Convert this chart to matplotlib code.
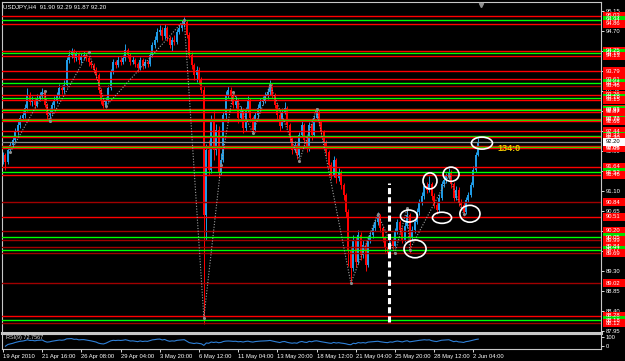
import numpy as np
import pandas as pd
import matplotlib
matplotlib.use("Agg")
import matplotlib.pyplot as plt
import matplotlib.transforms as mtransforms
from matplotlib.patches import Ellipse, Rectangle

plt.rcParams["font.family"] = ["Liberation Sans", "DejaVu Sans"]

# --- USDJPY H4 candles (19 Apr - 2 Jun 2010) ---
first_open = 91.78
closes = [
    91.90, 91.75, 92.02, 92.13, 92.24, 92.42, 92.58, 92.73, 92.80, 92.96,
    93.25, 93.10, 93.14, 93.03, 93.19, 93.23, 93.32, 93.03, 92.80, 92.87,
    93.03, 93.14, 93.25, 93.41, 93.37, 93.48, 94.04, 94.15, 94.22, 94.08,
    94.17, 94.04, 94.13, 94.15, 94.08, 93.99, 93.93, 93.82, 93.70, 93.37,
    93.14, 93.00, 93.14, 93.41, 93.77, 93.99, 93.93, 94.04, 93.99, 94.08,
    94.27, 94.15, 93.99, 94.04, 93.95, 93.86, 94.04, 93.91, 93.99, 93.95,
    94.15, 94.38, 94.49, 94.67, 94.72, 94.58, 94.76, 94.54, 94.38, 94.49,
    94.45, 94.67, 94.76, 94.83, 94.90, 94.60, 94.15, 93.93, 93.70, 93.82,
    93.59, 93.37, 90.55, 92.02, 91.57, 92.69, 92.02, 92.47, 91.52, 91.79,
    92.80, 93.25, 93.37, 93.25, 93.03, 93.14, 92.73, 92.91, 92.51, 92.91,
    93.14, 92.73, 92.47, 92.80, 92.96, 93.10, 93.14, 93.23, 93.32, 93.48,
    93.25, 93.03, 92.80, 92.55, 92.87, 92.96, 92.58, 92.28, 92.02, 92.13,
    91.90, 92.35, 92.58, 92.24, 92.06, 92.58, 92.35, 92.73, 92.87, 92.64,
    92.42, 92.19, 91.97, 91.68, 91.45, 91.79, 91.38, 91.52, 91.23, 91.00,
    90.62, 89.77, 89.36, 89.99, 89.50, 90.10, 89.65, 89.88, 89.43, 89.99,
    90.10, 90.26, 90.39, 90.53, 90.26, 90.04, 89.81, 89.70, 89.99, 89.86,
    90.17, 90.39, 90.22, 89.99, 90.31, 90.55, 90.04, 90.22, 90.39, 90.62,
    90.84, 90.98, 91.20, 91.12, 91.25, 90.98, 90.78, 90.67, 90.94, 91.25,
    91.34, 91.43, 91.52, 91.25, 90.94, 91.12, 90.84, 90.78, 90.62, 90.89,
    91.00, 91.23, 91.57, 91.90, 92.20]
highs = [
    91.98, 91.95, 92.08, 92.20, 92.31, 92.50, 92.66, 92.80, 92.90, 93.05,
    93.40, 93.32, 93.22, 93.20, 93.27, 93.33, 93.42, 93.36, 93.08, 92.95,
    93.10, 93.22, 93.33, 93.50, 93.48, 93.58, 94.10, 94.26, 94.30, 94.28,
    94.25, 94.21, 94.20, 94.24, 94.20, 94.12, 94.05, 93.98, 93.88, 93.75,
    93.42, 93.19, 93.21, 93.48, 93.84, 94.07, 94.05, 94.12, 94.10, 94.16,
    94.40, 94.32, 94.19, 94.12, 94.09, 94.00, 94.11, 94.08, 94.06, 94.04,
    94.22, 94.45, 94.58, 94.77, 94.82, 94.78, 94.86, 94.80, 94.58, 94.56,
    94.60, 94.74, 94.85, 94.93, 95.01, 94.95, 94.66, 94.22, 93.98, 93.90,
    93.88, 93.65, 93.45, 92.15, 92.24, 92.80, 92.90, 92.60, 92.55, 91.95,
    92.88, 93.35, 93.45, 93.44, 93.30, 93.24, 93.18, 93.00, 92.96, 92.98,
    93.23, 93.18, 92.78, 92.88, 93.04, 93.18, 93.22, 93.31, 93.40, 93.60,
    93.53, 93.30, 93.08, 92.85, 92.95, 93.10, 93.00, 92.62, 92.32, 92.22,
    92.18, 92.42, 92.66, 92.62, 92.30, 92.65, 92.62, 92.80, 92.96, 92.92,
    92.70, 92.47, 92.24, 92.02, 91.74, 91.88, 91.84, 91.62, 91.56, 91.28,
    91.05, 90.68, 89.85, 90.10, 90.06, 90.22, 90.18, 89.98, 89.94, 90.08,
    90.20, 90.34, 90.47, 90.61, 90.58, 90.30, 90.08, 89.86, 90.07, 90.04,
    90.25, 90.47, 90.45, 90.28, 90.40, 90.71, 90.60, 90.30, 90.46, 90.70,
    90.92, 91.06, 91.28, 91.30, 91.43, 91.30, 91.04, 90.85, 91.02, 91.32,
    91.42, 91.50, 91.62, 91.56, 91.30, 91.20, 91.18, 90.92, 90.85, 90.96,
    91.08, 91.30, 91.65, 91.98, 92.29]
lows = [
    91.70, 91.56, 91.70, 91.96, 92.07, 92.18, 92.36, 92.52, 92.66, 92.74,
    92.90, 93.02, 93.01, 92.95, 92.98, 93.12, 93.17, 92.98, 92.70, 92.72,
    92.82, 92.97, 93.08, 93.19, 93.28, 93.30, 93.44, 93.98, 94.08, 94.00,
    94.02, 93.96, 93.98, 94.06, 94.01, 93.90, 93.85, 93.74, 93.62, 93.30,
    93.06, 92.95, 92.96, 93.10, 93.36, 93.72, 93.86, 93.88, 93.92, 93.94,
    94.02, 94.08, 93.92, 93.94, 93.88, 93.78, 93.82, 93.84, 93.86, 93.88,
    93.91, 94.10, 94.32, 94.44, 94.60, 94.50, 94.52, 94.46, 94.30, 94.25,
    94.38, 94.40, 94.62, 94.70, 94.78, 94.54, 94.08, 93.84, 93.60, 93.55,
    93.50, 93.30, 88.10, 89.99, 91.45, 91.50, 91.80, 91.90, 91.40, 91.45,
    91.75, 92.72, 93.18, 93.15, 92.95, 92.96, 92.62, 92.66, 92.40, 92.45,
    92.86, 92.65, 92.40, 92.42, 92.74, 92.90, 93.02, 93.08, 93.16, 93.26,
    93.18, 92.96, 92.72, 92.45, 92.50, 92.82, 92.50, 92.20, 91.93, 91.96,
    91.82, 91.85, 92.30, 92.16, 91.98, 92.00, 92.25, 92.30, 92.68, 92.55,
    92.35, 92.10, 91.88, 91.60, 91.36, 91.40, 91.28, 91.32, 91.14, 90.90,
    90.50, 89.40, 89.02, 89.30, 89.38, 89.44, 89.55, 89.58, 89.30, 89.38,
    89.92, 90.04, 90.20, 90.33, 90.18, 89.95, 89.72, 89.62, 89.65, 89.78,
    89.82, 90.12, 90.14, 89.92, 89.94, 90.26, 89.70, 89.96, 90.15, 90.34,
    90.56, 90.78, 90.92, 91.04, 91.06, 90.90, 90.70, 90.58, 90.62, 90.88,
    91.18, 91.28, 91.36, 91.16, 90.86, 90.88, 90.76, 90.70, 90.52, 90.58,
    90.84, 90.95, 91.18, 91.52, 91.87]

time_labels = ["19 Apr 2010", "21 Apr 16:00", "26 Apr 08:00", "29 Apr 04:00",
               "3 May 20:00", "6 May 12:00", "11 May 04:00", "13 May 20:00",
               "18 May 12:00", "21 May 04:00", "25 May 20:00", "28 May 12:00",
               "2 Jun 04:00"]
bars_per_label = 16

price_ticks = [95.15, 94.70, 94.25, 93.80, 93.35, 92.90, 92.45, 92.00, 91.55,
               91.10, 90.65, 90.20, 89.75, 89.30, 88.85, 88.40, 87.95]

# horizontal support/resistance lines: r = red, d = dark red, g = green
level_prices = [95.03, 94.94, 94.86, 94.25, 94.19, 94.13, 93.79, 93.61, 93.52,
                93.46, 93.26, 93.19, 93.15, 92.93, 92.91, 92.87, 92.72, 92.70,
                92.66, 92.44, 92.33, 92.30, 92.11, 92.08, 92.05, 91.64, 91.52,
                91.46, 90.84, 90.51, 90.20, 90.05, 89.99, 89.84, 89.77, 89.69,
                89.02, 88.28, 88.18, 88.12]
level_kinds = ["r", "g", "r", "r", "g", "r", "r", "r", "g",
               "d", "r", "g", "r", "r", "g", "r", "r", "g",
               "r", "r", "g", "r", "r", "g", "r", "r", "g",
               "r", "d", "r", "d", "g", "d", "d", "g", "d",
               "d", "r", "g", "d"]
bid = 92.20

# zigzag swing points (bar index, price)
zz_x = [3, 17, 19, 35, 42, 74, 82, 89, 94, 102, 109, 121, 128, 142, 153, 160,
        165, 166, 182, 188]
zz_y = [91.97, 93.34, 92.67, 94.22, 93.00, 94.94, 88.24, 91.68, 93.32, 92.40,
        93.48, 91.77, 92.94, 89.02, 90.58, 89.70, 90.71, 89.77, 91.43, 90.58]

# hand drawn circles (centre bar, centre price, width in bars, height in price)
circ_x = [165.7, 168.2, 174.3, 179.2, 182.9, 190.6, 195.5]
circ_y = [90.53, 89.79, 91.32, 90.49, 91.47, 90.58, 92.17]
circ_w = [6.9, 9.0, 5.7, 7.8, 6.5, 8.2, 8.6]
circ_h = [0.27, 0.40, 0.36, 0.25, 0.32, 0.38, 0.27]

vline_x, vline_top, vline_bottom = 157.6, 91.27, 88.14
pips_text, pips_x, pips_y = "134:0", 202, 92.04

UP, DOWN = "#1f9be6", "#ff0000"
LINE_COL = {"r": "#ff0000", "d": "#a00000", "g": "#00ff00"}
BOX_COL = {"r": "#ff0000", "d": "#ff0000", "g": "#00e000"}
FRAME = "#c8c8c8"
FS = 4.2

W, H = 625, 361
fig = plt.figure(figsize=(W / 100, H / 100), dpi=100, facecolor="black")
ax = fig.add_axes([2 / W, (H - 333) / H, 599 / W, 331 / H], facecolor="black")
ax2 = fig.add_axes([2 / W, (H - 349) / H, 599 / W, 15 / H], facecolor="black")

idx = np.arange(len(closes))
c = np.array(closes)
o = np.array([first_open] + closes[:-1])
col = np.where(c >= o, UP, DOWN)

ax.vlines(idx, lows, highs, colors=col, lw=0.7, zorder=2)
ax.bar(idx, np.maximum(np.abs(c - o), 0.012), bottom=np.minimum(c, o),
       width=0.8, color=col, lw=0, zorder=2)

for p, k in zip(level_prices, level_kinds):
    ax.axhline(p, color=LINE_COL[k], lw=1.0, zorder=3)
ax.axhline(bid, color="#8a8a8a", lw=0.9, zorder=3)

ax.plot(zz_x, zz_y, color="#a0a0a0", lw=0.8, ls=(0, (1, 1.5)), zorder=4)
ax.scatter(zz_x, zz_y, s=5, color="#8c8c8c", lw=0, zorder=4)

ax.plot([vline_x, vline_x], [vline_bottom, vline_top], color="white", lw=2.2,
        ls=(0, (2, 1)), zorder=5)

for x, y, w, h in zip(circ_x, circ_y, circ_w, circ_h):
    ax.add_patch(Ellipse((x, y), w, h, fill=False, ec="white", lw=1.2, zorder=6))

ax.text(pips_x, pips_y, pips_text, color="#f0c800", fontsize=6.5,
        fontweight="bold", va="center", ha="left", zorder=6)

ax.set_xlim(-0.4, 244.1)
ax.set_ylim(87.8975, 95.345)
ax.set_xticks([])
ax.yaxis.tick_right()
ax.set_yticks(price_ticks)
ax.set_yticklabels([f"{t:.2f}" for t in price_ticks])
ax.tick_params(axis="y", colors="white", labelsize=FS, length=2, width=0.6, pad=1.5)
for s in ax.spines.values():
    s.set_color(FRAME)
    s.set_linewidth(0.8)
ax.spines["bottom"].set_linewidth(2.2)

# price boxes for each level on the right scale
trans = mtransforms.blended_transform_factory(ax.transAxes, ax.transData)
bx, bw, bh = 1 + 1.5 / 599, 22 / 599, 0.18
for p, k in zip(level_prices, level_kinds):
    ax.add_patch(Rectangle((bx, p - bh / 2), bw, bh, transform=trans, fc=BOX_COL[k],
                           ec="none", clip_on=False, zorder=7))
    ax.text(bx + bw / 2, p, f"{p:.2f}", transform=trans, color="white", fontsize=FS,
            ha="center", va="center", clip_on=False, zorder=8)
ax.add_patch(Rectangle((bx, bid - bh / 2), bw, bh, transform=trans, fc="white",
                       ec="none", clip_on=False, zorder=7))
ax.text(bx + bw / 2, bid, f"{bid:.2f}", transform=trans, color="black", fontsize=FS,
        ha="center", va="center", clip_on=False, zorder=8)

# chart shift marker
ax.plot([195.1], [0.992], marker="v", ms=3, color="#909090",
        transform=mtransforms.blended_transform_factory(ax.transData, ax.transAxes),
        clip_on=False, zorder=8)

fig.text(3 / W, 1 - 6.5 / H, "USDJPY,H4  91.90 92.29 91.87 92.20", color="white",
         fontsize=4.4, va="center", ha="left")

# RSI(9) sub window
delta = pd.Series(c).diff()
gain = delta.clip(lower=0).ewm(alpha=1 / 9, adjust=False).mean()
loss = (-delta.clip(upper=0)).ewm(alpha=1 / 9, adjust=False).mean()
rsi = 100 - 100 / (1 + gain / loss)
ax2.plot(idx[1:], rsi[1:], color="#2f80d8", lw=0.8)
ax2.set_xlim(-0.4, 244.1)
ax2.set_ylim(-30, 130)
ax2.text(0.006, 0.78, "RSI(9) 72.7567", transform=ax2.transAxes, color="#d8d8d8",
         fontsize=4.0, va="center", ha="left")
ax2.yaxis.tick_right()
ax2.set_yticks([100, 0])
ax2.set_yticklabels(["100", "0"])
ax2.tick_params(axis="y", colors="white", labelsize=FS, length=2, width=0.6, pad=1.5)
ax2.set_xticks(np.arange(len(time_labels)) * bars_per_label)
ax2.set_xticklabels(time_labels, ha="left")
ax2.tick_params(axis="x", colors="white", labelsize=FS, length=2, width=0.6, pad=1.5)
for s in ax2.spines.values():
    s.set_color(FRAME)
    s.set_linewidth(0.8)

fig.savefig("out.png", dpi=100, facecolor="black")
